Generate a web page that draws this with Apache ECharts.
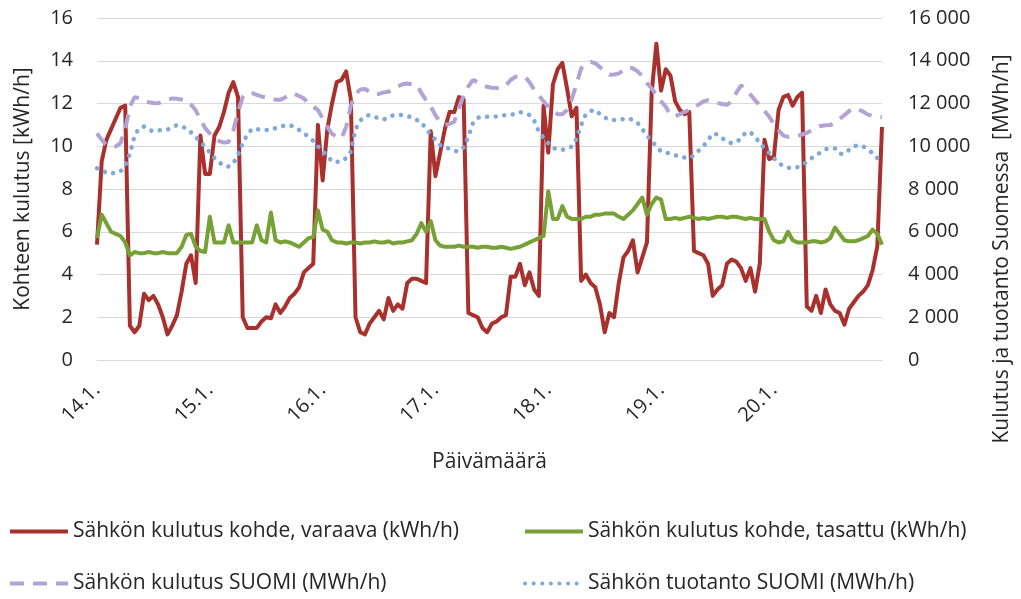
<!DOCTYPE html>
<html>
<head>
    <meta charset="utf-8">
    <title>Sähkön kulutus</title>
    <script src="https://cdn.jsdelivr.net/npm/echarts@6/dist/echarts.min.js"></script>
    <style>
      body, canvas {
        padding: 0;
        margin: 0;
      }
    </style>
</head>
<body>
    <div id="main"></div>
    <script type="text/javascript">
      const main = document.getElementById('main')
      main.style.width = window.innerWidth + 'px'
      main.style.height = window.innerHeight + 'px'
      var myChart = echarts.init(main);

      // päivät (x-akselin otsikot), tunneittain 24 arvoa / päivä
      const days = ['14.1.', '15.1.', '16.1.', '17.1.', '18.1.', '19.1.', '20.1.'];

      // kohde, varaava (kWh/h)
      const varaava = [
        5.4, 9.3, 10.3, 10.8, 11.3, 11.8, 11.9, 1.6, 1.3, 1.6, 3.1, 2.8, 3.0, 2.6, 2.0, 1.2, 1.6, 2.1, 3.2, 4.5, 4.9, 3.6, 10.5, 8.7,
        8.7, 10.5, 10.9, 11.6, 12.5, 13.0, 12.3, 2.0, 1.5, 1.5, 1.5, 1.8, 2.0, 1.95, 2.6, 2.2, 2.5, 2.9, 3.1, 3.4, 4.1, 4.3, 4.5, 11.0,
        8.4, 10.8, 12.0, 13.0, 13.1, 13.5, 12.2, 2.0, 1.3, 1.2, 1.7, 2.0, 2.3, 1.9, 2.9, 2.3, 2.6, 2.4, 3.6, 3.8, 3.8, 3.7, 3.6, 10.7,
        8.6, 9.7, 10.8, 11.6, 11.6, 12.3, 12.2, 2.2, 2.1, 2.0, 1.5, 1.3, 1.7, 1.8, 2.0, 2.1, 3.9, 3.9, 4.5, 3.5, 4.1, 3.3, 3.0, 11.9,
        9.7, 12.9, 13.6, 13.9, 12.7, 11.4, 11.8, 3.7, 4.0, 3.6, 3.4, 2.6, 1.3, 2.2, 2.0, 3.6, 4.8, 5.1, 5.6, 4.1, 4.8, 5.5, 12.5, 14.8,
        12.6, 13.6, 13.3, 12.1, 11.7, 11.5, 11.6, 5.1, 5.0, 4.9, 4.5, 3.0, 3.3, 3.5, 4.5, 4.7, 4.6, 4.3, 3.7, 4.3, 3.2, 4.5, 10.3, 9.4,
        9.5, 11.7, 12.3, 12.4, 11.9, 12.3, 12.5, 2.5, 2.3, 3.0, 2.2, 3.3, 2.6, 2.3, 2.2, 1.65, 2.4, 2.7, 3.0, 3.2, 3.5, 4.2, 5.3, 10.9
      ];

      // kohde, tasattu (kWh/h)
      const tasattu = [
        5.7, 6.8, 6.4, 6.0, 5.9, 5.8, 5.5, 4.9, 5.05, 5.0, 5.0, 5.05, 5.0, 5.0, 5.05, 5.0, 5.0, 5.0, 5.3, 5.85, 5.9, 5.3, 5.1, 5.05,
        6.7, 5.5, 5.5, 5.5, 6.3, 5.5, 5.5, 5.5, 5.5, 5.5, 6.3, 5.6, 5.5, 6.9, 5.6, 5.5, 5.55, 5.5, 5.4, 5.3, 5.5, 5.7, 5.75, 7.0,
        6.1, 6.0, 5.6, 5.5, 5.5, 5.45, 5.5, 5.5, 5.45, 5.5, 5.5, 5.55, 5.5, 5.5, 5.55, 5.45, 5.5, 5.5, 5.55, 5.6, 5.9, 6.4, 6.0, 6.5,
        5.6, 5.35, 5.3, 5.3, 5.3, 5.35, 5.3, 5.3, 5.3, 5.25, 5.3, 5.3, 5.25, 5.25, 5.3, 5.25, 5.2, 5.25, 5.3, 5.4, 5.5, 5.6, 5.7, 5.8,
        7.9, 6.6, 6.6, 7.2, 6.7, 6.6, 6.6, 6.6, 6.7, 6.7, 6.8, 6.8, 6.85, 6.85, 6.85, 6.7, 6.6, 6.8, 7.0, 7.3, 7.6, 6.8, 7.3, 7.6,
        7.5, 6.6, 6.6, 6.65, 6.6, 6.65, 6.7, 6.65, 6.6, 6.65, 6.6, 6.65, 6.7, 6.7, 6.65, 6.7, 6.7, 6.65, 6.6, 6.65, 6.6, 6.6, 6.6, 6.0,
        5.6, 5.5, 5.55, 6.0, 5.6, 5.5, 5.5, 5.5, 5.55, 5.55, 5.5, 5.55, 5.7, 6.2, 5.9, 5.6, 5.55, 5.55, 5.6, 5.7, 5.8, 6.1, 5.9, 5.4
      ];

      // kulutus SUOMI (MWh/h)
      const kulutusSuomi = [
        10600, 10300, 10060, 10000, 9990, 10150, 10800, 11850, 12300, 12250, 12120, 12060, 12020, 12010, 12080, 12180, 12240, 12220, 12190, 12160, 11950, 11680, 11260, 10850,
        10600, 10380, 10240, 10170, 10200, 10750, 11600, 12300, 12500, 12480, 12400, 12330, 12280, 12230, 12180, 12170, 12280, 12440, 12450, 12350, 12230, 12000, 11850, 11700,
        11300, 10900, 10580, 10450, 10370, 10900, 11900, 12450, 12650, 12680, 12550, 12420, 12450, 12520, 12550, 12680, 12800, 12900, 12940, 12900, 12870, 12500, 12150, 11850,
        11450, 11150, 11000, 11040, 11150, 11800, 12380, 12800, 13100, 13000, 12850, 12780, 12740, 12720, 12710, 12850, 13100, 13250, 13270, 13260, 13000, 12650, 12380, 12100,
        11850, 11680, 11500, 11500, 11700, 12200, 12900, 13650, 13850, 13950, 13880, 13700, 13500, 13350, 13360, 13410, 13550, 13700, 13650, 13500, 13300, 12950, 12700, 12400,
        12100, 11850, 11450, 11400, 11500, 11600, 11700, 11820, 11950, 12100, 12150, 12100, 12030, 11980, 11940, 12100, 12500, 12850, 12650, 12420, 12150, 11920, 11650, 11380,
        11050, 10760, 10500, 10440, 10450, 10480, 10550, 10620, 10750, 10880, 10950, 10980, 10990, 11100, 11280, 11450, 11650, 11790, 11720, 11620, 11480, 11420, 11390, 11360
      ];

      // tuotanto SUOMI (MWh/h)
      const tuotantoSuomi = [
        8970, 8880, 8760, 8720, 8770, 8820, 9100, 9650, 10500, 10850, 10920, 10780, 10700, 10740, 10760, 10780, 10880, 10990, 10920, 10840, 10650, 10430, 10200, 9980,
        9700, 9450, 9250, 9080, 9050, 9200, 9600, 10150, 10550, 10820, 10800, 10760, 10760, 10760, 10850, 10930, 10960, 10990, 10900, 10760, 10600, 10450, 10250, 10000,
        9750, 9570, 9280, 9270, 9280, 9450, 9750, 10800, 11200, 11400, 11460, 11380, 11300, 11250, 11350, 11450, 11460, 11460, 11430, 11330, 11230, 11130, 10800, 10560,
        10300, 10060, 9950, 9880, 9780, 9760, 9950, 10450, 11100, 11330, 11380, 11380, 11380, 11400, 11430, 11460, 11460, 11530, 11600, 11540, 11460, 11200, 10680, 10400,
        10150, 9920, 9850, 9830, 9900, 9980, 10350, 11000, 11500, 11650, 11700, 11500, 11350, 11230, 11230, 11230, 11270, 11310, 11230, 11100, 10800, 10500, 10250, 10000,
        9750, 9700, 9660, 9580, 9510, 9470, 9440, 9570, 9800, 10000, 10290, 10600, 10550, 10380, 10220, 10140, 10200, 10350, 10650, 10650, 10450, 10150, 9900, 9680,
        9450, 9220, 9080, 9000, 8970, 9020, 9120, 9260, 9440, 9580, 9720, 9860, 9910, 9900, 9650, 9650, 9830, 10000, 10040, 9990, 9850, 9680, 9450, 9360
      ];

      const hours = [];
      days.forEach(d => {
        for (let h = 0; h < 24; h++) hours.push(d + ' ' + h + ':00');
      });

      const font = 'Open Sans';
      const textColor = '#262626';
      const gridColor = '#d9d9d9';

      const legendBase = {
        top: 521,
        padding: 0,
        orient: 'vertical',
        itemWidth: 58,
        itemHeight: 14,
        itemGap: 31,
        itemStyle: { opacity: 0 },
        lineStyle: { width: 4 },
        textStyle: { fontFamily: font, fontSize: 21, color: textColor }
      };

      option = {
        animation: false,
        backgroundColor: '#fff',
        textStyle: { fontFamily: font, color: textColor },
        grid: { left: 97, right: 139, top: 18, bottom: 239 },
        legend: [Object.assign({}, legendBase, {
          left: 8,
          data: ['Sähkön kulutus kohde, varaava (kWh/h)', 'Sähkön kulutus SUOMI (MWh/h)']
        }), Object.assign({}, legendBase, {
          left: 523,
          data: ['Sähkön kulutus kohde, tasattu (kWh/h)', 'Sähkön tuotanto SUOMI (MWh/h)']
        })],
        xAxis: {
          type: 'category',
          data: hours,
          boundaryGap: false,
          name: 'Päivämäärä',
          nameLocation: 'middle',
          nameGap: 92,
          nameTextStyle: { fontFamily: font, fontSize: 21, color: textColor },
          axisLine: { lineStyle: { color: gridColor } },
          axisTick: { show: false },
          axisLabel: {
            interval: 23,
            rotate: 45,
            margin: 27,
            fontFamily: font,
            fontSize: 20,
            color: textColor,
            formatter: v => v.split(' ')[0]
          }
        },
        yAxis: [{
          type: 'value',
          min: 0,
          max: 16,
          interval: 2,
          name: 'Kohteen kulutus [kWh/h]',
          nameLocation: 'middle',
          nameGap: 63,
          nameTextStyle: { fontFamily: font, fontSize: 21, color: textColor },
          axisLine: { show: false },
          axisTick: { show: false },
          axisLabel: { margin: 24, fontFamily: font, fontSize: 20, color: textColor },
          splitLine: { lineStyle: { color: gridColor, width: 1 } }
        }, {
          type: 'value',
          min: 0,
          max: 16000,
          interval: 2000,
          name: 'Kulutus ja tuotanto Suomessa  [MWh/h]',
          nameLocation: 'middle',
          nameGap: 110,
          nameTextStyle: { fontFamily: font, fontSize: 21, color: textColor, padding: [0, 120, 0, 0] },
          axisLine: { show: false },
          axisTick: { show: false },
          splitLine: { show: false },
          axisLabel: {
            margin: 26,
            fontFamily: font,
            fontSize: 20,
            color: textColor,
            formatter: v => String(v).replace(/\B(?=(\d{3})+(?!\d))/g, ' ')
          }
        }],
        series: [{
          name: 'Sähkön kulutus kohde, varaava (kWh/h)',
          type: 'line',
          yAxisIndex: 0,
          data: varaava,
          symbol: 'none',
          color: '#a8302d',
          lineStyle: { width: 4, color: '#a8302d', join: 'round' }
        }, {
          name: 'Sähkön kulutus kohde, tasattu (kWh/h)',
          type: 'line',
          yAxisIndex: 0,
          data: tasattu,
          symbol: 'none',
          color: '#77a136',
          lineStyle: { width: 4, color: '#77a136', join: 'round' }
        }, {
          name: 'Sähkön kulutus SUOMI (MWh/h)',
          type: 'line',
          yAxisIndex: 1,
          data: kulutusSuomi,
          symbol: 'none',
          color: '#b3a2d6',
          lineStyle: { width: 4, color: '#b3a2d6', type: [14, 9] }
        }, {
          name: 'Sähkön tuotanto SUOMI (MWh/h)',
          type: 'line',
          yAxisIndex: 1,
          data: tuotantoSuomi,
          symbol: 'none',
          color: '#7fa9dd',
          lineStyle: { width: 4.5, color: '#7fa9dd', type: [0.1, 8.5], cap: 'round' }
        }]
      };
      myChart.setOption(option);
    </script>
</body>
</html>
